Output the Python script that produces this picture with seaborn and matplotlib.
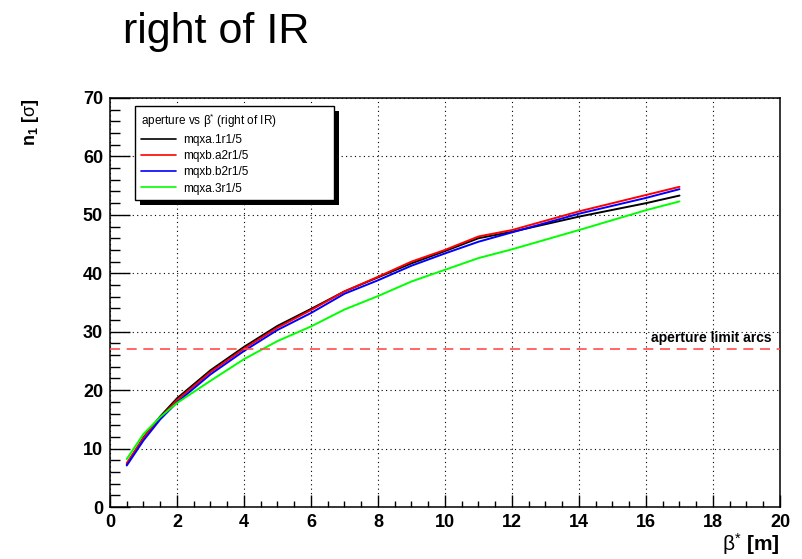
import numpy as np
import pandas as pd
import matplotlib
matplotlib.use("Agg")
import matplotlib.pyplot as plt
import seaborn as sns
from matplotlib.patches import Rectangle
from matplotlib.transforms import IdentityTransform
from matplotlib.ticker import MultipleLocator

# ---- data ----
beta = [0.5, 1, 1.5, 2, 3, 4, 5, 6, 7, 8, 9, 10, 11, 12, 14, 16, 17]
mqxa_1r1 = [7.3, 11.9, 15.5, 18.6, 23.4, 27.4, 31.0, 33.9, 36.9, 39.3, 41.7, 43.8, 46.0, 47.1, 49.7, 52.0, 53.3]
mqxb_a2r1 = [7.5, 11.8, 15.3, 18.3, 23.1, 27.1, 30.7, 33.7, 36.9, 39.4, 42.0, 44.0, 46.3, 47.4, 50.6, 53.4, 54.8]
mqxb_b2r1 = [7.1, 11.4, 15.0, 17.9, 22.7, 26.7, 30.3, 33.2, 36.5, 38.8, 41.3, 43.4, 45.4, 47.0, 50.2, 52.9, 54.4]
mqxa_3r1 = [8.2, 12.5, 15.4, 17.8, 21.6, 25.3, 28.4, 30.9, 33.8, 36.1, 38.6, 40.6, 42.6, 44.1, 47.4, 50.8, 52.3]
series_names = ["mqxa.1r1/5", "mqxb.a2r1/5", "mqxb.b2r1/5", "mqxa.3r1/5"]
series_colors = ["#000000", "#ff0000", "#0000ff", "#00ff00"]
aperture_limit = 27.0

df = pd.DataFrame({
    "beta": beta * 4,
    "n1": mqxa_1r1 + mqxb_a2r1 + mqxb_b2r1 + mqxa_3r1,
    "magnet": sum([[n] * len(beta) for n in series_names], []),
})

sns.set_theme(style="white")
plt.rcParams["font.family"] = ["Liberation Sans", "DejaVu Sans"]
plt.rcParams["mathtext.fontset"] = "custom"
plt.rcParams["mathtext.rm"] = "Liberation Sans"
plt.rcParams["mathtext.bf"] = "Liberation Sans:bold"
plt.rcParams["mathtext.it"] = "Liberation Sans:italic"
for k in ["text.color", "axes.labelcolor", "xtick.color", "ytick.color", "axes.edgecolor"]:
    plt.rcParams[k] = "black"

fig = plt.figure(figsize=(8.03, 5.59), dpi=100)
ax = fig.add_axes([110 / 803, 1 - 507 / 559, 670 / 803, 409 / 559])

sns.lineplot(data=df, x="beta", y="n1", hue="magnet", hue_order=series_names,
             palette=series_colors, estimator=None, linewidth=1.4, ax=ax, legend=False)

ax.axhline(aperture_limit, color="#ff4d4d", linewidth=1.2, linestyle=(0, (6, 4)), zorder=3)
ax.text(16.15, 28.3, "aperture limit arcs", fontsize=10, fontweight="bold",
        ha="left", va="baseline", color="black")

ax.set_xlim(0, 20)
ax.set_ylim(0, 70)
ax.xaxis.set_major_locator(MultipleLocator(2))
ax.xaxis.set_minor_locator(MultipleLocator(0.5))
ax.yaxis.set_major_locator(MultipleLocator(10))
ax.yaxis.set_minor_locator(MultipleLocator(2))
ax.grid(True, which="major", color="black", linestyle=(0, (1, 3)), linewidth=0.8)
ax.set_axisbelow(True)
for s in ax.spines.values():
    s.set_color("black")
    s.set_linewidth(1.1)

ax.tick_params(axis="x", which="major", direction="in", length=8.6, width=1.0,
               labelsize=13, pad=5, bottom=True, top=False, colors="black")
ax.tick_params(axis="x", which="minor", direction="in", length=4.3, width=1.0,
               bottom=True, top=False, colors="black")
ax.tick_params(axis="y", which="major", direction="in", length=14.4, width=1.0,
               labelsize=13, pad=5, left=True, right=False, colors="black")
ax.tick_params(axis="y", which="minor", direction="in", length=7.2, width=1.0,
               left=True, right=False, colors="black")
for lab in ax.get_xticklabels() + ax.get_yticklabels():
    lab.set_fontweight("bold")

ax.set_xlabel("")
ax.set_ylabel("")
ax.text(1.0, -0.108, r"$\mathrm{β}^{*}$ [m]", transform=ax.transAxes, ha="right",
        va="baseline", fontsize=15, fontweight="bold", color="black")
ax.text(-0.118, 1.0, r"$\mathbf{n}_{\mathbf{1}}$ [$\mathrm{σ}$]", transform=ax.transAxes,
        ha="center", va="top", rotation=90, fontsize=13, fontweight="bold", color="black")

fig.text(123 / 803, 1 - 43 / 559, "right of IR", fontsize=31, ha="left", va="baseline",
         color="black")

handles = ax.get_lines()[:4]
leg = ax.legend(handles, series_names, loc="upper left",
                bbox_to_anchor=(25 / 670, 397 / 409, 199 / 670, 0.01),
                mode="expand", borderaxespad=0, fontsize=8.5,
                title="aperture vs β$^{*}$ (right of IR)", title_fontsize=8.5,
                alignment="left", handlelength=3.0, handletextpad=0.6,
                labelspacing=0.35, borderpad=0.5, fancybox=False,
                edgecolor="black", framealpha=1, frameon=True)
leg.get_frame().set_linewidth(1.0)
for h in leg.legend_handles:
    h.set_linewidth(1.2)
for t in leg.get_texts():
    t.set_color("black")
leg.get_title().set_color("black")
leg.set_zorder(10)

fig.canvas.draw()
bb = leg.get_window_extent()
shadow = Rectangle((bb.x0 + 5, bb.y0 - 5), bb.width, bb.height, transform=IdentityTransform(),
                   facecolor="black", edgecolor="none", zorder=9, clip_on=False)
ax.add_artist(shadow)

fig.savefig("out.png", dpi=100, facecolor="white")
